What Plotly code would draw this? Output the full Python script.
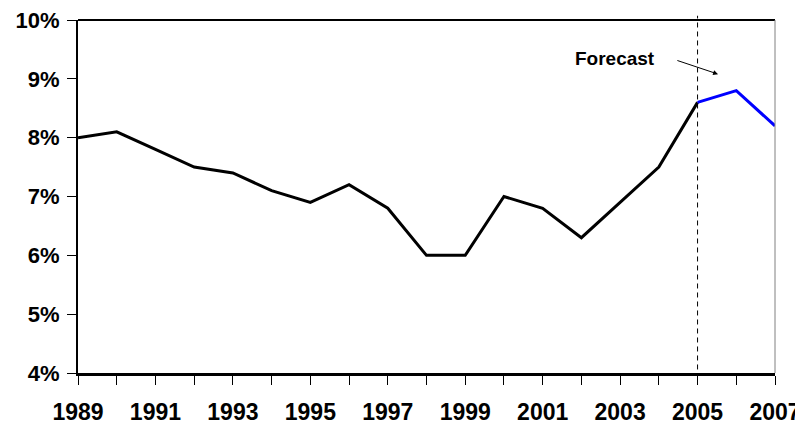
import plotly.graph_objects as go

years = list(range(1989, 2008))
rates = [8.0, 8.1, 7.8, 7.5, 7.4, 7.1, 6.9, 7.2, 6.8, 6.0, 6.0, 7.0, 6.8, 6.3, 6.9, 7.5, 8.6, 8.8, 8.2]
forecast_start = 2005
x_tick_labels = [1989, 1991, 1993, 1995, 1997, 1999, 2001, 2003, 2005, 2007]
y_ticks = [4, 5, 6, 7, 8, 9, 10]
y_tick_text = [f"{v}%" for v in y_ticks]

hist_x = [y for y in years if y <= forecast_start]
hist_y = rates[:len(hist_x)]
fc_x = [y for y in years if y >= forecast_start]
fc_y = rates[len(hist_x) - 1:]

FONT = "Liberation Sans, Arial, sans-serif"

fig = go.Figure()
fig.add_trace(go.Scatter(x=hist_x, y=hist_y, mode="lines",
                         line=dict(color="black", width=3), showlegend=False))
fig.add_trace(go.Scatter(x=fc_x, y=fc_y, mode="lines",
                         line=dict(color="#0000FF", width=3), showlegend=False))

# forecast divider
fig.add_shape(type="line", xref="x", yref="paper", x0=forecast_start, x1=forecast_start,
              y0=0.01, y1=1.012, line=dict(color="black", width=1, dash="5px,4px"))
# top border and right border
fig.add_shape(type="line", xref="paper", yref="paper", x0=0, x1=1, y0=1, y1=1,
              line=dict(color="black", width=2))
fig.add_shape(type="line", xref="paper", yref="paper", x0=1, x1=1, y0=0, y1=1,
              line=dict(color="#808080", width=1))

fig.add_annotation(x=2002.87, y=9.35, text="<b>Forecast</b>", showarrow=False,
                   font=dict(family=FONT, size=19, color="black"))
fig.add_annotation(x=2005.53, y=9.08, ax=2004.44, ay=9.32, axref="x", ayref="y",
                   xref="x", yref="y", text="", showarrow=True, arrowhead=2,
                   arrowsize=1, arrowwidth=1, arrowcolor="black")

fig.update_layout(
    width=795, height=417,
    margin=dict(l=70, r=28, t=12, b=52, autoexpand=False),
    paper_bgcolor="white", plot_bgcolor="white",
    xaxis=dict(range=[1989, 2007], tickmode="array", tickvals=x_tick_labels,
               ticktext=[str(v) for v in x_tick_labels],
               ticks="outside", ticklen=9, tickwidth=1, tickcolor="black",
               minor=dict(ticks="outside", dtick=1, ticklen=9, tickwidth=1, tickcolor="black"),
               showline=True, linecolor="black", linewidth=2.5, automargin=False,
               showgrid=False, zeroline=False, ticklabelstandoff=8,
               ticklabeloverflow="allow",
               tickfont=dict(family=FONT, size=23, color="black", weight="bold")),
    yaxis=dict(range=[4, 10], tickmode="array", tickvals=y_ticks, ticktext=y_tick_text,
               ticks="outside", ticklen=9, tickwidth=1, tickcolor="black",
               showline=True, linecolor="black", linewidth=2, automargin=False,
               showgrid=False, zeroline=False, ticklabelstandoff=3,
               ticklabeloverflow="allow",
               tickfont=dict(family=FONT, size=22, color="black", weight="bold")),
)

fig.write_html("out.html")
